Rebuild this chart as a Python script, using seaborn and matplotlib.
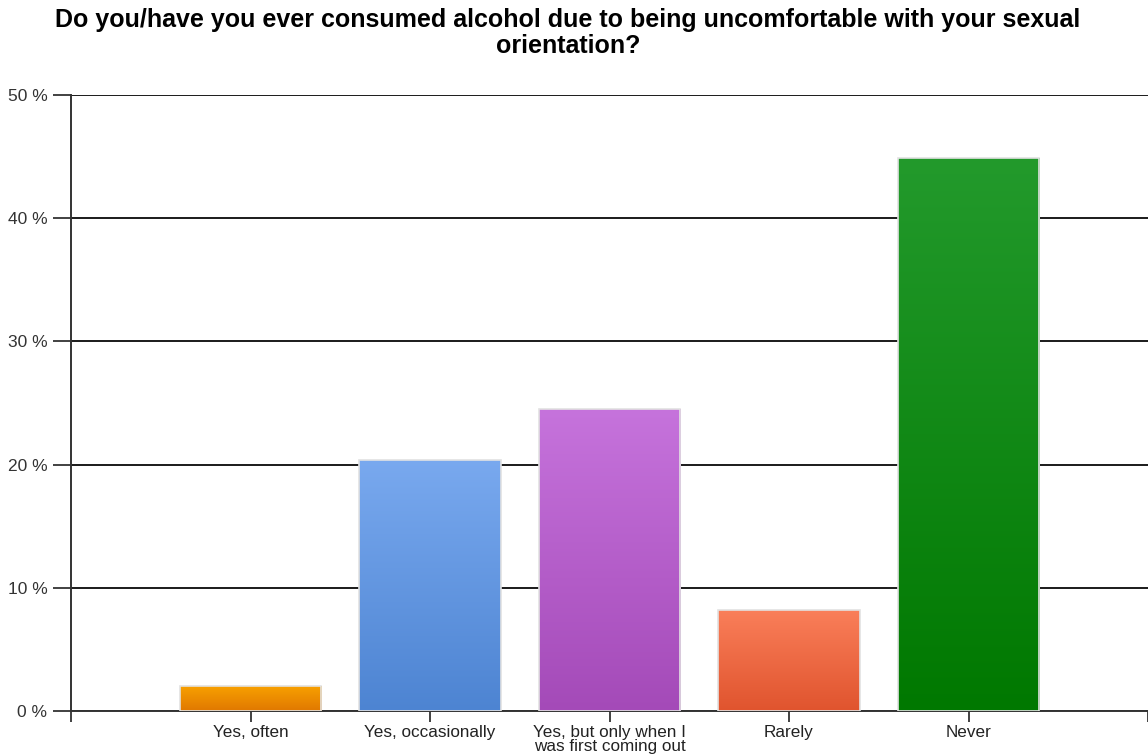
import numpy as np
import pandas as pd
import matplotlib
matplotlib.use("Agg")
import matplotlib.pyplot as plt
import matplotlib.colors as mcolors
import seaborn as sns

categories = ["Yes, often", "Yes, occasionally",
              "Yes, but only when I\nwas first coming out", "Rarely", "Never"]
percentages = [2.0, 20.4, 24.5, 8.2, 44.9]
top_colors = ["#f8a000", "#79a9ef", "#c673dc", "#fa7f5a", "#239a2c"]
bottom_colors = ["#e07800", "#4d84d2", "#a44ab8", "#e0542e", "#007800"]
y_ticks = [0, 10, 20, 30, 40, 50]
y_tick_labels = ["0 %", "10 %", "20 %", "30 %", "40 %", "50 %"]
title = ("Do you/have you ever consumed alcohol due to being uncomfortable with your sexual\n"
         "orientation?")

sns.set_style("white")
plt.rcParams["font.family"] = ["Liberation Sans", "DejaVu Sans"]

df = pd.DataFrame({"answer": categories, "pct": percentages})

fig = plt.figure(figsize=(11.48, 7.55), dpi=100)
ax = fig.add_axes([71 / 1148, 1 - 711 / 755, 1 - 71 / 1148, (711 - 95) / 755])

sns.barplot(data=df, x="answer", y="pct", order=categories, width=0.79,
            color="#cccccc", saturation=1, ax=ax, zorder=3)

# vertical gradient fill for each bar, clipped to the bar rectangle
for patch, c_top, c_bot in zip(ax.patches, top_colors, bottom_colors):
    x0, y0 = patch.get_x(), patch.get_y()
    w, h = patch.get_width(), patch.get_height()
    cmap = mcolors.LinearSegmentedColormap.from_list("g", [c_bot, c_top])
    grad = np.linspace(0, 1, 256).reshape(-1, 1)
    im = ax.imshow(grad, cmap=cmap, aspect="auto", origin="lower",
                   extent=[x0, x0 + w, y0, y0 + h], zorder=3)
    im.set_clip_path(patch)
    patch.set_facecolor("none")
    patch.set_edgecolor("#e2e2e2")
    patch.set_linewidth(1.2)
    patch.set_zorder(4)

ax.set_xlim(-1, 5)
ax.set_ylim(0, 50)
ax.set_xticks(range(-1, 6))
ax.set_xticklabels([""] + categories + [""])
ax.set_yticks(y_ticks)
ax.set_yticklabels(y_tick_labels)
ax.set_xlabel("")
ax.set_ylabel("")

ax.yaxis.grid(True, color="#1a1a1a", linewidth=1.4, zorder=0)
ax.set_axisbelow(True)
for s in ["top", "right"]:
    ax.spines[s].set_visible(False)
for s in ["left", "bottom"]:
    ax.spines[s].set_color("#333333")
    ax.spines[s].set_linewidth(1.4)

ax.tick_params(axis="y", length=13, width=1.3, color="#333333", pad=4,
               labelsize=12.5, labelcolor="#333333", left=True)
ax.tick_params(axis="x", length=8, width=1.3, color="#333333", pad=2,
               labelsize=12.3, labelcolor="#222222", bottom=True)
for lbl in ax.get_xticklabels():
    lbl.set_linespacing(0.95)

fig.text(568 / 1148, 1 - 8 / 755, title, ha="center", va="top",
         fontsize=18, fontweight="bold", color="#000000", linespacing=1.08)

fig.savefig("out.png", dpi=100, facecolor="white")
